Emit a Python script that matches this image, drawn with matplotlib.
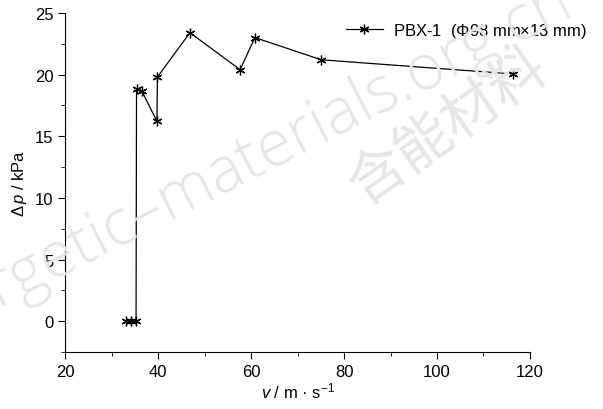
import numpy as np
import matplotlib.pyplot as plt
from matplotlib.ticker import MultipleLocator

plt.rcParams['font.family'] = ['Liberation Sans Narrow', 'Liberation Sans', 'DejaVu Sans']
plt.rcParams['mathtext.fontset'] = 'custom'
plt.rcParams['mathtext.rm'] = 'Liberation Sans'
plt.rcParams['mathtext.it'] = 'Liberation Sans:italic'

v = [33.0, 34.1, 35.2, 35.3, 36.4, 39.7, 39.8, 46.8, 57.6, 60.8, 75.1, 116.4]
dp = [0.0, 0.0, 0.0, 18.8, 18.7, 16.2, 19.8, 23.4, 20.4, 23.0, 21.2, 20.05]
label = 'PBX-1  ($\\mathit{Φ}$98 mm×13 mm)'

fig = plt.figure(figsize=(6.03, 4.10), dpi=100)
ax = fig.add_axes([0.1086, 0.139, 0.770, 0.827])

# watermark
fig.text(0.385, 0.585, 'energetic–materials.org.cn', fontsize=46, color='#e6e6e6',
         rotation=27, ha='center', va='center', family=['Open Sans', 'Liberation Sans'],
         fontweight='light', zorder=0)
fig.text(0.745, 0.69, '含能材料', fontsize=41, color='#e6e6e6', rotation=35,
         ha='center', va='center', family=['Noto Sans CJK SC'], fontweight='light', zorder=0)

ax.plot(v, dp, color='black', lw=0.9, marker=(6, 2, 0), markersize=7,
        markeredgewidth=0.9, label=label)

ax.set_xlim(20, 120)
ax.set_ylim(-2.5, 25)
ax.xaxis.set_major_locator(MultipleLocator(20))
ax.xaxis.set_minor_locator(MultipleLocator(10))
ax.yaxis.set_major_locator(MultipleLocator(5))
ax.yaxis.set_minor_locator(MultipleLocator(2.5))
for s in ['top', 'right']:
    ax.spines[s].set_visible(False)
ax.tick_params(which='major', direction='out', length=5, labelsize=12)
ax.tick_params(which='minor', direction='out', length=3)
ax.patch.set_alpha(0)

ax.set_xlabel('$\\mathit{v}$ / m · s$^{-1}$', fontsize=12, labelpad=1)
ax.set_ylabel('$\\Delta\\,\\mathit{p}$ / kPa', fontsize=12, labelpad=4)

ax.legend(loc='upper right', bbox_to_anchor=(1.155, 1.02), frameon=False, fontsize=12,
          handlelength=2.2, handletextpad=0.6)

fig.savefig('out.png', dpi=100)
